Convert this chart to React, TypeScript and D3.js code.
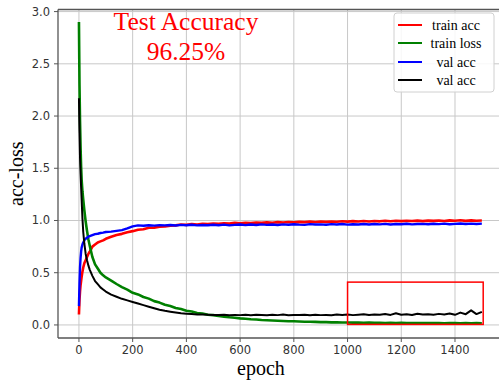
import React from "react";
import * as d3 from "d3";

const epochs = [0,2,4,6,8,10,13,16,20,25,30,35,40,50,60,70,80,90,100,
120,140,160,180,200,220,240,260,280,300,
320,340,360,380,400,420,440,460,480,500,
520,540,560,580,600,620,640,660,680,700,
720,740,760,780,800,820,840,860,880,900,
920,940,960,980,1000,1020,1040,1060,1080,1100,
1120,1140,1160,1180,1200,1220,1240,1260,1280,1300,
1320,1340,1360,1380,1400,1420,1440,1460,1480,1500];

const trainAcc = [0.10,0.24,0.32,0.38,0.42,0.46,0.51,0.55,0.59,0.62,0.65,0.68,0.70,0.75,0.77,0.79,0.80,0.81,0.825,
0.845,0.862,0.872,0.888,0.898,0.912,0.916,0.930,0.932,0.941,
0.944,0.951,0.953,0.961,0.958,0.966,0.962,0.968,0.965,0.971,
0.968,0.974,0.970,0.977,0.973,0.979,0.975,0.981,0.977,0.982,
0.979,0.984,0.981,0.986,0.982,0.987,0.984,0.989,0.985,0.990,
0.987,0.991,0.988,0.993,0.989,0.994,0.990,0.995,0.991,0.995,
0.992,0.997,0.993,0.998,0.994,0.998,0.995,0.999,0.994,0.999,
0.996,1.000,0.995,1.001,0.997,1.002,0.996,1.001,0.998,1.000];

const trainLoss = [2.90,2.30,1.95,1.70,1.52,1.39,1.28,1.20,1.10,0.99,0.90,0.82,0.76,0.65,0.58,0.54,0.50,0.475,0.455,
0.425,0.392,0.362,0.338,0.308,0.292,0.268,0.252,0.228,0.214,
0.193,0.182,0.163,0.152,0.136,0.129,0.115,0.110,0.098,0.094,
0.085,0.080,0.073,0.069,0.063,0.059,0.054,0.052,0.047,0.045,
0.042,0.040,0.038,0.036,0.035,0.033,0.031,0.030,0.029,0.027,
0.027,0.025,0.026,0.023,0.024,0.022,0.023,0.021,0.022,0.020,
0.021,0.019,0.020,0.018,0.020,0.017,0.019,0.018,0.017,0.019,
0.017,0.018,0.016,0.018,0.017,0.016,0.018,0.016,0.017,0.016];

const valAcc = [0.18,0.40,0.55,0.64,0.70,0.74,0.77,0.79,0.81,0.825,0.835,0.845,0.85,0.86,0.87,0.873,0.88,0.884,0.89,
0.893,0.901,0.908,0.925,0.944,0.953,0.950,0.955,0.951,0.956,
0.953,0.957,0.952,0.958,0.954,0.959,0.953,0.957,0.954,0.959,
0.955,0.960,0.953,0.958,0.962,0.956,0.961,0.957,0.963,0.958,
0.962,0.957,0.963,0.959,0.964,0.960,0.958,0.965,0.961,0.963,
0.959,0.965,0.961,0.966,0.960,0.964,0.962,0.967,0.961,0.966,
0.963,0.968,0.962,0.967,0.964,0.969,0.963,0.966,0.968,0.964,
0.969,0.965,0.970,0.964,0.968,0.971,0.966,0.970,0.967,0.970];

const valLoss = [2.17,1.85,1.60,1.45,1.32,1.20,1.02,0.89,0.78,0.68,0.62,0.57,0.53,0.47,0.42,0.39,0.36,0.34,0.32,
0.290,0.270,0.250,0.235,0.220,0.205,0.190,0.175,0.160,0.146,
0.135,0.127,0.120,0.113,0.108,0.104,0.101,0.099,0.097,0.096,
0.095,0.097,0.093,0.096,0.094,0.098,0.092,0.097,0.095,0.093,
0.097,0.094,0.099,0.093,0.096,0.095,0.098,0.092,0.097,0.094,
0.096,0.093,0.099,0.095,0.101,0.094,0.098,0.103,0.095,0.099,
0.097,0.104,0.096,0.112,0.098,0.102,0.095,0.108,0.099,0.103,
0.098,0.106,0.101,0.110,0.097,0.118,0.103,0.140,0.104,0.125];

const seriesNames = ["train acc", "train loss", "val acc", "val acc"];
const seriesColors = ["#ff0000", "#008000", "#0000ff", "#000000"];
const seriesWidths = [2.6, 2.6, 2.4, 2.0];
const xTicks = [0, 200, 400, 600, 800, 1000, 1200, 1400];
const yTicks = [0, 0.5, 1.0, 1.5, 2.0, 2.5, 3.0];
const titleLines = ["Test Accuracy", "96.25%"];
const boxEpochs = [1000, 1505];
const boxValues = [0.005, 0.41];

const W = 499, H = 383;
const left = 58, top = 9.5, bottom = 338;

export default function App() {
  const x = d3.scaleLinear().domain([-78, 1575]).range([left, 502]);
  const y = d3.scaleLinear().domain([-0.125, 3.02]).range([bottom, top]);
  const seriesData = [trainAcc, trainLoss, valAcc, valLoss];
  const line = (vals: number[]) =>
    d3.line<number>().x((_, i) => x(epochs[i])).y((v) => y(v))(vals) || "";
  const tickFont = "'DejaVu Sans', sans-serif";
  const serif = "'Liberation Serif', 'Times New Roman', serif";
  const legendX = 394, legendY = 13, legendW = 100, legendH = 79;
  const legendRows = [25, 43, 62, 80];
  return (
    <svg width={W} height={H} style={{ position: "absolute", left: 0, top: 0, background: "#fff" }}>
      <rect x={0} y={0} width={W} height={H} fill="#fff" />
      <clipPath id="plot"><rect x={left} y={top} width={W - left} height={bottom - top} /></clipPath>
      <g stroke="#c8c8c8" strokeWidth={1}>
        {xTicks.map((t) => (
          <line key={"gx" + t} x1={x(t)} x2={x(t)} y1={top} y2={bottom} />
        ))}
        {yTicks.map((t) => (
          <line key={"gy" + t} x1={left} x2={W} y1={y(t)} y2={y(t)} />
        ))}
      </g>
      <g clipPath="url(#plot)" fill="none" strokeLinejoin="round">
        {seriesData.map((vals, i) => (
          <path key={i} d={line(vals)} stroke={seriesColors[i]} strokeWidth={seriesWidths[i]} />
        ))}
      </g>
      <rect
        x={x(boxEpochs[0])}
        y={y(boxValues[1])}
        width={x(boxEpochs[1]) - x(boxEpochs[0])}
        height={y(boxValues[0]) - y(boxValues[1])}
        fill="none"
        stroke="#ff0000"
        strokeWidth={1.5}
      />
      <g stroke="#555" strokeWidth={1.3}>
        <line x1={left} x2={left} y1={top} y2={bottom} />
        <line x1={left} x2={W} y1={bottom} y2={bottom} />
        <line x1={left} x2={W} y1={top} y2={top} />
      </g>
      <g stroke="#555" strokeWidth={1}>
        {xTicks.map((t) => (
          <line key={"tx" + t} x1={x(t)} x2={x(t)} y1={bottom} y2={bottom + 4} />
        ))}
        {yTicks.map((t) => (
          <line key={"ty" + t} x1={left - 4} x2={left} y1={y(t)} y2={y(t)} />
        ))}
      </g>
      <g fontFamily={tickFont} fontSize={11.5} fill="#333">
        {xTicks.map((t) => (
          <text key={"lx" + t} x={x(t)} y={354} textAnchor="middle">{t}</text>
        ))}
        {yTicks.map((t) => (
          <text key={"ly" + t} x={50} y={y(t) + 4} textAnchor="end">{t.toFixed(1)}</text>
        ))}
      </g>
      <text x={261} y={375} fontFamily={serif} fontSize={20} textAnchor="middle" fill="#000">epoch</text>
      <text
        transform={`translate(23, ${(top + bottom) / 2}) rotate(-90)`}
        fontFamily={serif}
        fontSize={20}
        textAnchor="middle"
        fill="#000"
      >acc-loss</text>
      <g fontFamily={serif} fontSize={25.5} fill="#ff0000" textAnchor="middle">
        <text x={186} y={30}>{titleLines[0]}</text>
        <text x={186} y={60}>{titleLines[1]}</text>
      </g>
      <rect x={legendX} y={legendY} width={legendW} height={legendH} rx={3} fill="#fff" fillOpacity={0.85} stroke="#d0d0d0" />
      {seriesNames.map((n, i) => (
        <g key={"lg" + i}>
          <line x1={398} x2={422} y1={legendRows[i]} y2={legendRows[i]} stroke={seriesColors[i]} strokeWidth={2} />
          <text x={456} y={legendRows[i] + 4.5} fontFamily={serif} fontSize={14} textAnchor="middle" fill="#000">{n}</text>
        </g>
      ))}
    </svg>
  );
}
